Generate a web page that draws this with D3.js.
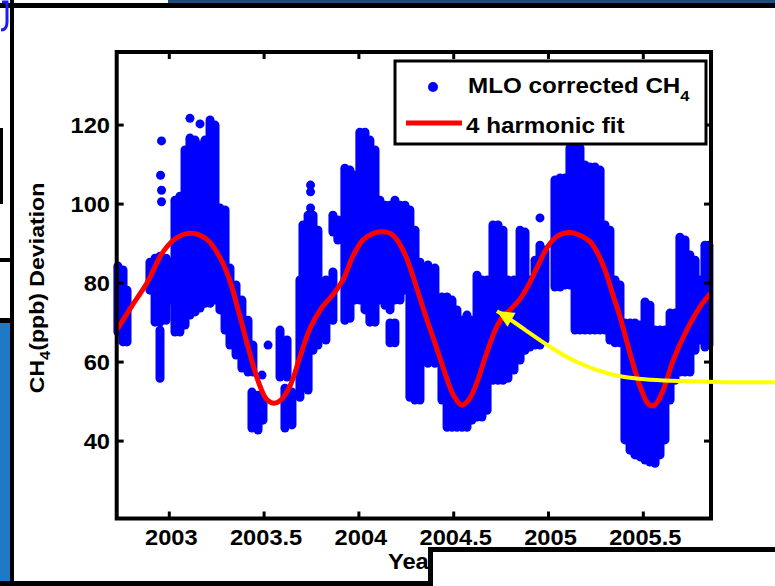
<!DOCTYPE html>
<html><head><meta charset="utf-8">
<script src="https://cdn.jsdelivr.net/npm/d3@7/dist/d3.min.js"></script>
<style>
html,body{margin:0;padding:0;background:#fff;overflow:hidden}
svg text{font-family:"Liberation Sans",Arial,sans-serif;font-weight:bold;fill:#000}
</style></head><body>
<svg id="chart" width="775" height="586"></svg>
<script>
// ---------------- data ----------------
const xTicks = [2003, 2003.5, 2004, 2004.5, 2005, 2005.5];
const xTickLabels = ["2003", "2003.5", "2004", "2004.5", "2005", "2005.5"];
const yTicks = [40, 60, 80, 100, 120];
const yTickLabels = ["40", "60", "80", "100", "120"];
const xDomain = [2002.7226, 2005.857];
const yDomain = [20.4, 138.5];
const seriesNames = ["MLO corrected CH", "4 harmonic fit"];

// MLO corrected CH4 observations: dense vertical clusters [year, low, high] (ppb)
const obsRanges = [
  [2002.729, 67.6, 84.3], [2002.756, 65.1, 83.3], [2002.777, 65.1, 78.2],
  [2002.898, 78.2, 85.3], [2002.925, 70.1, 86.3], [2002.951, 70.1, 86.8],
  [2002.951, 55.9, 68.1], [2002.983, 70.6, 86.3], [2003.004, 75.7, 85.3],
  [2003.030, 67.6, 101.0], [2003.056, 67.6, 102.0], [2003.083, 69.4, 113.7],
  [2003.109, 71.9, 116.7], [2003.136, 72.7, 116.2], [2003.162, 73.7, 114.9],
  [2003.188, 74.9, 116.2], [2003.215, 74.9, 121.3], [2003.241, 75.7, 120.0],
  [2003.267, 73.2, 99.0], [2003.294, 68.1, 98.5], [2003.320, 64.3, 83.8],
  [2003.352, 61.8, 79.5], [2003.383, 58.5, 75.7], [2003.415, 57.5, 70.6],
  [2003.441, 57.5, 64.3], [2003.436, 43.3, 52.4], [2003.468, 42.8, 51.6],
  [2003.494, 45.3, 50.4], [2003.584, 56.2, 68.1], [2003.621, 56.2, 65.6],
  [2003.610, 43.3, 53.4], [2003.647, 44.1, 52.4], [2003.689, 51.1, 80.8],
  [2003.705, 79.0, 94.7], [2003.732, 52.9, 97.2], [2003.758, 63.0, 97.2],
  [2003.784, 64.3, 93.4], [2003.826, 65.6, 80.8], [2003.863, 92.9, 97.2],
  [2003.863, 70.6, 82.8], [2003.889, 90.9, 96.0], [2003.926, 70.6, 109.1],
  [2003.953, 71.1, 108.6], [2003.979, 75.7, 107.3], [2004.005, 75.7, 118.2],
  [2004.032, 73.2, 118.2], [2004.058, 70.1, 116.2], [2004.085, 70.1, 113.7],
  [2004.111, 75.7, 101.0], [2004.138, 74.4, 99.7], [2004.164, 73.2, 99.7],
  [2004.164, 64.9, 69.9], [2004.190, 75.7, 101.0], [2004.190, 64.9, 69.9],
  [2004.217, 75.7, 99.7], [2004.243, 78.2, 99.7], [2004.269, 51.1, 98.5],
  [2004.296, 50.4, 93.4], [2004.322, 50.4, 85.3], [2004.364, 59.7, 84.6],
  [2004.401, 59.7, 83.8], [2004.438, 50.4, 76.5], [2004.465, 43.5, 76.5],
  [2004.491, 43.5, 75.7], [2004.517, 43.5, 73.2], [2004.544, 43.5, 70.6],
  [2004.570, 43.5, 71.9], [2004.596, 45.3, 70.6], [2004.623, 46.1, 82.0],
  [2004.649, 46.1, 80.8], [2004.676, 47.8, 80.8], [2004.707, 55.4, 94.7],
  [2004.734, 55.4, 94.7], [2004.760, 55.4, 93.4], [2004.786, 55.9, 80.8],
  [2004.818, 58.0, 80.8], [2004.850, 60.5, 93.4], [2004.876, 63.0, 92.9],
  [2004.902, 63.8, 80.8], [2004.929, 64.3, 85.8], [2004.955, 64.3, 89.6],
  [2004.981, 65.6, 88.4], [2005.034, 79.0, 106.1], [2005.061, 79.0, 106.6],
  [2005.087, 79.5, 106.6], [2005.113, 79.5, 114.2], [2005.140, 68.1, 114.2],
  [2005.166, 68.1, 114.2], [2005.192, 68.1, 109.9], [2005.219, 68.1, 109.4],
  [2005.245, 68.1, 109.4], [2005.272, 68.1, 108.6], [2005.298, 68.1, 94.7],
  [2005.324, 65.6, 93.4], [2005.351, 64.9, 80.8], [2005.377, 64.9, 79.5],
  [2005.403, 40.3, 69.9], [2005.430, 37.7, 69.9], [2005.456, 36.5, 69.9],
  [2005.483, 36.0, 69.4], [2005.509, 35.2, 75.2], [2005.535, 34.7, 74.4],
  [2005.562, 34.4, 68.1], [2005.588, 36.5, 68.1], [2005.614, 40.3, 68.1],
  [2005.641, 50.4, 72.4], [2005.667, 55.4, 72.4], [2005.693, 57.5, 91.6],
  [2005.720, 57.5, 90.9], [2005.746, 57.5, 87.1], [2005.773, 63.0, 85.8],
  [2005.799, 65.6, 80.8], [2005.825, 63.8, 89.6], [2005.846, 64.3, 89.6]
];
// isolated observations [year, ppb]
const obsPoints = [
  [2002.959, 116.0], [2002.954, 107.3], [2002.959, 103.5], [2002.959, 100.6],
  [2003.109, 121.7], [2003.162, 120.3], [2003.489, 56.7], [2003.521, 64.3],
  [2003.745, 104.8], [2003.745, 103.1], [2003.745, 99.0],
  [2004.074, 99.7], [2004.955, 96.5]
];
// 4 harmonic fit [year, ppb]
const fitYears = [2002.7226, 2002.80, 2002.882, 2002.967, 2003.04, 2003.118, 2003.20,
  2003.267, 2003.32, 2003.37, 2003.42, 2003.47, 2003.514, 2003.55, 2003.584,
  2003.637, 2003.689, 2003.742, 2003.80, 2003.87, 2003.918, 2003.97, 2004.023,
  2004.076, 2004.12, 2004.164, 2004.20, 2004.25, 2004.30, 2004.35, 2004.40,
  2004.445, 2004.50, 2004.542, 2004.58, 2004.62, 2004.656, 2004.69, 2004.727,
  2004.76, 2004.797, 2004.85, 2004.90, 2004.95, 2005.00, 2005.05, 2005.113,
  2005.17, 2005.219, 2005.26, 2005.30, 2005.34, 2005.377, 2005.43, 2005.483,
  2005.52, 2005.544, 2005.57, 2005.605, 2005.658, 2005.729, 2005.799, 2005.857];
const fitValues = [68.1, 74.0, 80.0, 87.9, 91.5, 92.6, 91.0,
  86.5, 80.5, 72.0, 63.0, 55.0, 50.5, 49.6, 50.2,
  54.0, 61.3, 68.5, 73.5, 77.5, 81.0, 87.0, 91.0,
  92.6, 93.0, 92.6, 91.0, 86.5, 79.5, 72.0, 65.0,
  58.5, 51.5, 49.1, 50.5, 54.5, 59.7, 64.5, 68.9,
  71.5, 73.2, 76.0, 80.0, 85.0, 89.5, 92.0, 92.8,
  92.0, 90.5, 87.5, 83.0, 77.0, 71.5, 62.2, 53.8,
  49.8, 48.9, 49.6, 52.9, 60.5, 68.1, 74.0, 77.5];
// yellow annotation arrow (from the slide) in data coordinates [year, ppb]
const arrowPath = [[2006.194, 54.9], [2005.904, 54.9], [2005.498, 55.4], [2005.324, 56.7],
  [2005.150, 59.7], [2005.007, 63.8], [2004.902, 67.3], [2004.781, 71.4], [2004.728, 72.9]];

// ---------------- layout ----------------
const svg = d3.select("#chart");
const plot = {left: 116.7, right: 711, top: 52, bottom: 518.5};
const x = d3.scaleLinear().domain(xDomain).range([plot.left, plot.right]);
const y = d3.scaleLinear().domain(yDomain).range([plot.bottom, plot.top]);
const BLUE = "#0000ff", RED = "#ff0000";
const SX = 1.1; // horizontal stretch of the screenshot's text

// slide background decoration
svg.append("rect").attr("x", 0).attr("y", 0).attr("width", 775).attr("height", 586).attr("fill", "#fff");
svg.append("rect").attr("x", 168).attr("y", 0).attr("width", 607).attr("height", 4).attr("fill", "#1f4e79");
svg.append("rect").attr("x", 0).attr("y", 3).attr("width", 775).attr("height", 5).attr("fill", "#000");
svg.append("rect").attr("x", 10).attr("y", 0).attr("width", 4).attr("height", 586).attr("fill", "#000");
svg.append("path").attr("d", "M2,2 L7,2 L7,22 Q7,30 1,30").attr("fill", "none").attr("stroke", "#1a1aff").attr("stroke-width", 3);
svg.append("rect").attr("x", 0).attr("y", 128).attr("width", 3).attr("height", 76).attr("fill", "#000");
svg.append("rect").attr("x", 0).attr("y", 258).attr("width", 10).attr("height", 4).attr("fill", "#000");
svg.append("rect").attr("x", 0).attr("y", 318).attr("width", 10).attr("height", 5).attr("fill", "#000");
svg.append("rect").attr("x", 0).attr("y", 323).attr("width", 10).attr("height", 263).attr("fill", "#2079c7");
svg.append("rect").attr("x", 0).attr("y", 581).attr("width", 432).attr("height", 5).attr("fill", "#000");

// observations
const g = svg.append("g");
g.selectAll("line.obs").data(obsRanges).join("line")
  .attr("class", "obs")
  .attr("x1", d => x(d[0])).attr("x2", d => x(d[0]))
  .attr("y1", d => y(d[2])).attr("y2", d => y(d[1]))
  .attr("stroke", BLUE).attr("stroke-width", 9).attr("stroke-linecap", "round");
g.selectAll("circle.obs").data(obsPoints).join("circle")
  .attr("class", "obs")
  .attr("cx", d => x(d[0])).attr("cy", d => y(d[1])).attr("r", 4.5).attr("fill", BLUE);

// fit
svg.append("clipPath").attr("id", "clip").append("rect")
  .attr("x", plot.left).attr("y", plot.top).attr("width", plot.right - plot.left).attr("height", plot.bottom - plot.top);
const fit = fitYears.map((t, i) => [t, fitValues[i]]);
svg.append("path").datum(fit)
  .attr("clip-path", "url(#clip)")
  .attr("d", d3.line().x(d => x(d[0])).y(d => y(d[1])).curve(d3.curveCatmullRom.alpha(0.5)))
  .attr("fill", "none").attr("stroke", RED).attr("stroke-width", 5).attr("stroke-linejoin", "round");

// axes box
const axG = svg.append("g");
axG.append("rect").attr("x", plot.left).attr("y", plot.top)
  .attr("width", plot.right - plot.left).attr("height", plot.bottom - plot.top)
  .attr("fill", "none").attr("stroke", "#000").attr("stroke-width", 4);
const tl = 7;
xTicks.forEach(t => {
  axG.append("line").attr("x1", x(t)).attr("x2", x(t)).attr("y1", plot.bottom).attr("y2", plot.bottom - tl).attr("stroke", "#000").attr("stroke-width", 3);
  axG.append("line").attr("x1", x(t)).attr("x2", x(t)).attr("y1", plot.top).attr("y2", plot.top + tl).attr("stroke", "#000").attr("stroke-width", 3);
});
yTicks.forEach(t => {
  axG.append("line").attr("x1", plot.left).attr("x2", plot.left + tl).attr("y1", y(t)).attr("y2", y(t)).attr("stroke", "#000").attr("stroke-width", 3);
  axG.append("line").attr("x1", plot.right).attr("x2", plot.right - tl).attr("y1", y(t)).attr("y2", y(t)).attr("stroke", "#000").attr("stroke-width", 3);
});
// tick labels
axG.selectAll("text.xt").data(xTicks).join("text").attr("class", "xt")
  .attr("transform", d => `translate(${x(d) + 2},545) scale(${SX},1)`)
  .attr("text-anchor", "middle").attr("font-size", 21.5)
  .text((d, i) => xTickLabels[i]);
axG.selectAll("text.yt").data(yTicks).join("text").attr("class", "yt")
  .attr("transform", d => `translate(110,${y(d) + 7.5}) scale(${SX},1)`)
  .attr("text-anchor", "end").attr("font-size", 21.5)
  .text((d, i) => yTickLabels[i]);

// axis labels
const yl = svg.append("text").attr("transform", `translate(44,288) rotate(-90) scale(${SX},1)`)
  .attr("text-anchor", "middle").attr("font-size", 21);
yl.append("tspan").text("CH");
yl.append("tspan").attr("font-size", 15).attr("dy", 6).text("4");
yl.append("tspan").attr("dy", -6).text("(ppb) Deviation");
svg.append("text").attr("transform", `translate(388,569) scale(${SX},1)`).attr("font-size", 21.5).text("Year");

// legend
const lg = svg.append("g");
lg.append("rect").attr("x", 395).attr("y", 61).attr("width", 311).attr("height", 83)
  .attr("fill", "#fff").attr("stroke", "#000").attr("stroke-width", 3);
lg.append("circle").attr("cx", 433).attr("cy", 87).attr("r", 5).attr("fill", BLUE);
const t1 = lg.append("text").attr("transform", `translate(468,93) scale(${SX},1)`).attr("font-size", 22);
t1.append("tspan").text(seriesNames[0]);
t1.append("tspan").attr("font-size", 15).attr("dy", 8).text("4");
lg.append("line").attr("x1", 406).attr("x2", 462).attr("y1", 123).attr("y2", 123).attr("stroke", RED).attr("stroke-width", 5);
lg.append("text").attr("transform", `translate(466,133) scale(${SX},1)`).attr("font-size", 22).text(seriesNames[1]);

// bottom-right slide box (covers part of the chart)
svg.append("rect").attr("x", 430.5).attr("y", 549.5).attr("width", 350).attr("height", 50)
  .attr("fill", "#fff").attr("stroke", "#000").attr("stroke-width", 5);

// yellow arrow annotation
const ap = arrowPath.map(d => [x(d[0]), y(d[1])]);
svg.append("path").attr("d", d3.line().curve(d3.curveBasis)(ap))
  .attr("fill", "none").attr("stroke", "#ffff00").attr("stroke-width", 4);
const tip = ap[ap.length - 1], prev = ap[ap.length - 2];
const ang = Math.atan2(tip[1] - prev[1], tip[0] - prev[0]);
const hl = 17, hw = 8;
const bx = tip[0] - hl * Math.cos(ang), by = tip[1] - hl * Math.sin(ang);
svg.append("path").attr("d", `M${tip[0]},${tip[1]}L${bx + hw * Math.sin(ang)},${by - hw * Math.cos(ang)}L${bx - hw * Math.sin(ang)},${by + hw * Math.cos(ang)}Z`)
  .attr("fill", "#ffff00");
</script></body></html>
